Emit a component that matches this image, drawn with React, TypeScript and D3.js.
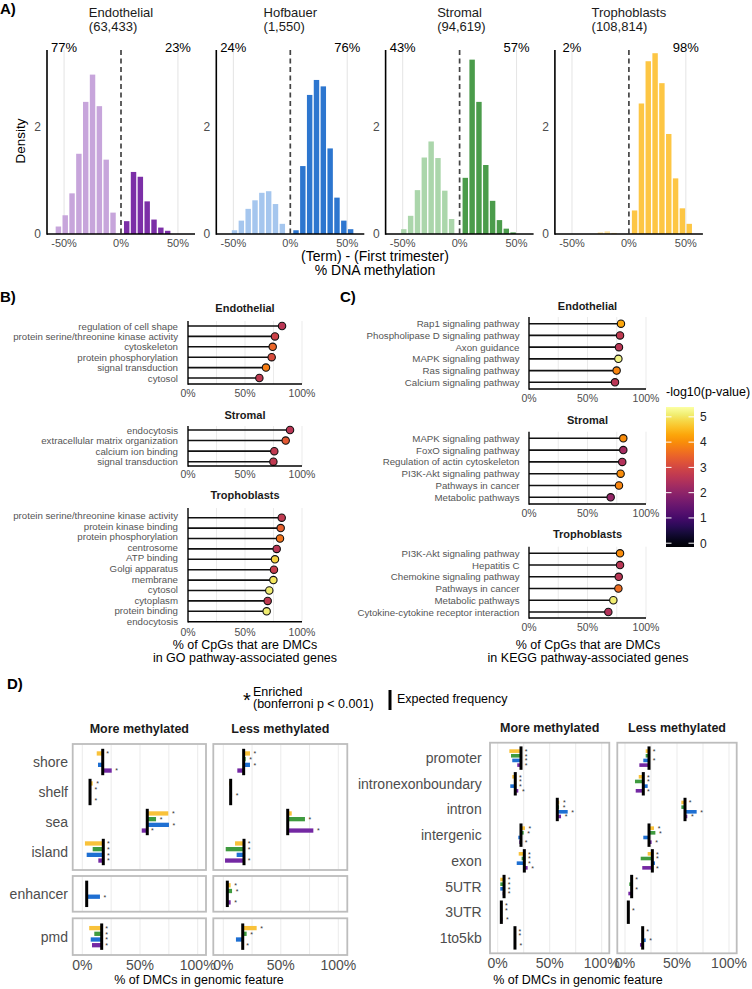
import React from "react";
import * as d3 from "d3";

const FONT = "'Liberation Sans', Arial, Helvetica, sans-serif";
const GREY = "#4d4d4d";

// ---------- A) density histograms ----------
const CELL_TYPES = ["Endothelial", "Hofbauer", "Stromal", "Trophoblasts"];
const CELL_COUNTS = ["(63,433)", "(1,550)", "(94,619)", "(108,814)"];
const PCT_LOWER = ["77%", "24%", "43%", "2%"];
const PCT_HIGHER = ["23%", "76%", "57%", "98%"];
const BIN_CENTERS = [-55, -49, -43, -37, -31, -25, -19, -13, -7, -1, 5, 11, 17, 23, 29, 35, 41, 47, 53];
const DENSITY_ENDO = [0.14, 0.35, 0.76, 1.5, 2.47, 2.98, 2.39, 1.39, 0.4, 0, 0.24, 1.16, 1.07, 0.61, 0.27, 0.12, 0.06, 0, 0];
const DENSITY_HOF = [0, 0.07, 0.25, 0.47, 0.63, 0.77, 0.8, 0.56, 0.19, 0, 0.07, 1.27, 2.6, 2.88, 2.76, 1.6, 0.68, 0.25, 0.09];
const DENSITY_STROM = [0, 0.09, 0.34, 0.82, 1.43, 1.73, 1.42, 0.81, 0.28, 0, 1.05, 3.26, 2.47, 1.29, 0.62, 0.26, 0.1, 0.03, 0];
const DENSITY_TROPH = [0, 0, 0, 0, 0, 0.03, 0.05, 0.02, 0, 0, 0.44, 2.44, 3.23, 3.38, 2.82, 1.87, 1.04, 0.48, 0.19];
const HIST_LIGHT = ["#c7a5db", "#a5c6ee", "#abd6ab", "#fde3a1"];
const HIST_DARK = ["#7c2fa7", "#2d76cf", "#4b9c4b", "#fdc644"];

// ---------- B) GO lollipops ----------
const GO_ENDO_TERMS = ["regulation of cell shape", "protein serine/threonine kinase activity", "cytoskeleton", "protein phosphorylation", "signal transduction", "cytosol"];
const GO_ENDO_PCT = [0.825, 0.763, 0.743, 0.734, 0.684, 0.626];
const GO_ENDO_LOGP = [2.6, 2.9, 3.5, 3.1, 3.8, 2.7];
const GO_STROM_TERMS = ["endocytosis", "extracellular matrix organization", "calcium ion binding", "signal transduction"];
const GO_STROM_PCT = [0.895, 0.857, 0.757, 0.749];
const GO_STROM_LOGP = [2.6, 3.3, 2.7, 2.7];
const GO_TROPH_TERMS = ["protein serine/threonine kinase activity", "protein kinase binding", "protein phosphorylation", "centrosome", "ATP binding", "Golgi apparatus", "membrane", "cytosol", "cytoplasm", "protein binding", "endocytosis"];
const GO_TROPH_PCT = [0.822, 0.813, 0.807, 0.778, 0.763, 0.754, 0.749, 0.713, 0.699, 0.69];
const GO_TROPH_LOGP = [2.7, 3.4, 3.7, 2.6, 4.8, 2.8, 5.0, 5.1, 2.7, 5.1];

// ---------- C) KEGG lollipops ----------
const KEGG_ENDO_TERMS = ["Rap1 signaling pathway", "Phospholipase D signaling pathway", "Axon guidance", "MAPK signaling pathway", "Ras signaling pathway", "Calcium signaling pathway"];
const KEGG_ENDO_PCT = [0.786, 0.778, 0.769, 0.764, 0.749, 0.735];
const KEGG_ENDO_LOGP = [4.3, 2.7, 2.6, 5.2, 3.9, 2.6];
const KEGG_STROM_TERMS = ["MAPK signaling pathway", "FoxO signaling pathway", "Regulation of actin cytoskeleton", "PI3K-Akt signaling pathway", "Pathways in cancer", "Metabolic pathways"];
const KEGG_STROM_PCT = [0.806, 0.806, 0.797, 0.783, 0.769, 0.698];
const KEGG_STROM_LOGP = [4.0, 2.3, 2.5, 4.0, 3.9, 2.1];
const KEGG_TROPH_TERMS = ["PI3K-Akt signaling pathway", "Hepatitis C", "Chemokine signaling pathway", "Pathways in cancer", "Metabolic pathways", "Cytokine-cytokine receptor interaction"];
const KEGG_TROPH_PCT = [0.778, 0.778, 0.767, 0.764, 0.721, 0.678];
const KEGG_TROPH_LOGP = [4.0, 2.6, 2.6, 3.6, 5.1, 2.5];
const LOGP_TICKS = [0, 1, 2, 3, 4, 5];

// ---------- D) genomic features ----------
const D_CELLS = ["T", "S", "H", "E"]; // Trophoblasts, Stromal, Hofbauer, Endothelial
const D_COLORS = ["#f9c23a", "#3f9b3f", "#1e6fd2", "#7428a3"];

const REGION_FEATURES = ["shore", "shelf", "sea", "island", "enhancer", "pmd"];
const REGION_EXPECTED_MORE = [17.7, 6.7, 56.3, 18.2, 3.8, 16.8];
const REGION_MORE_TROPH = [12.5, 9.0, 74.5, 2.3, 3.8, 6.0];
const REGION_MORE_STROM = [17.7, 7.5, 63.9, 9.0, 3.8, 10.4];
const REGION_MORE_HOF = [13.6, 6.7, 75.1, 3.8, 15.3, 7.3];
const REGION_MORE_ENDO = [25.5, 7.5, 51.5, 13.9, 3.8, 8.4];
const REGION_MORE_SIG = ["TE", "TSE", "TSHE", "TSHE", "H", "TSHE"];
const REGION_EXPECTED_LESS = [17.7, 6.4, 56.0, 18.0, 3.5, 16.9];
const REGION_LESS_TROPH = [23.2, 5.2, 59.5, 10.2, 6.4, 29.0];
const REGION_LESS_STROM = [19.5, 6.4, 71.0, 2.1, 7.6, 20.3];
const REGION_LESS_HOF = [23.2, 7.6, 56.0, 11.6, 3.5, 11.0];
const REGION_LESS_ENDO = [12.2, 6.4, 78.3, 1.5, 6.4, 16.9];
const REGION_LESS_SIG = ["TSH", "H", "SE", "TSE", "TSE", "TSE"];

const GENE_FEATURES = ["promoter", "intronexonboundary", "intron", "intergenic", "exon", "5UTR", "3UTR", "1to5kb"];
const GENE_EXPECTED_MORE = [22.4, 16.9, 57.3, 22.4, 25.6, 6.1, 3.5, 16.6];
const GENE_MORE_TROPH = [11.2, 14.0, 59.2, 26.2, 20.2, 2.5, 3.3, 16.6];
const GENE_MORE_STROM = [12.8, 16.5, 59.0, 25.0, 23.0, 2.5, 3.3, 16.6];
const GENE_MORE_HOF = [14.0, 12.1, 67.3, 19.8, 18.3, 2.5, 3.3, 16.6];
const GENE_MORE_ENDO = [18.8, 19.8, 60.9, 20.8, 28.8, 4.8, 4.5, 17.5];
const GENE_MORE_SIG = ["TSHE", "TSHE", "TSHE", "TSE", "TSHE", "TSHE", "TSE", "TSE"];
const GENE_EXPECTED_LESS = [23.1, 17.6, 57.7, 23.1, 26.3, 6.4, 3.2, 17.0];
const GENE_LESS_TROPH = [19.9, 13.2, 54.2, 27.9, 21.8, 6.0, 3.2, 17.0];
const GENE_LESS_STROM = [19.9, 9.6, 54.2, 29.2, 15.1, 4.1, 3.2, 16.5];
const GENE_LESS_HOF = [17.6, 21.8, 68.9, 17.6, 28.8, 6.4, 3.0, 19.9];
const GENE_LESS_ENDO = [13.8, 10.3, 59.9, 25.6, 16.6, 3.2, 3.2, 14.4];
const GENE_LESS_SIG = ["TH", "TSE", "THE", "TSE", "TSE", "TH", "S", "TH"];

const PCT_TICKS = [0, 50, 100];

const inferno = d3.scaleSequential(d3.interpolateInferno).domain([-0.15, 5.39]);

const measureCtx = typeof document !== "undefined" ? document.createElement("canvas").getContext("2d") : null;
function textWidth(s: string, font: string) {
  if (!measureCtx) return s.length * 7;
  measureCtx.font = font;
  return measureCtx.measureText(s).width;
}

function PanelA() {
  const series = [DENSITY_ENDO, DENSITY_HOF, DENSITY_STROM, DENSITY_TROPH];
  const y = d3.scaleLinear().domain([0, 3.44]).range([234, 50]);
  const step = BIN_CENTERS[1] - BIN_CENTERS[0];
  return (
    <g>
      <text x={0} y={14} fontSize={15} fontWeight="bold">A)</text>
      {CELL_TYPES.map((name, i) => {
        const left = 47 + i * 169.3;
        const x = d3.scaleLinear().domain([-65, 65]).range([left, left + 148]);
        const bw = x(step) - x(0);
        const tx = x(0) - textWidth(name, `13px ${FONT}`) / 2;
        return (
          <g key={name}>
            <text x={tx} y={17} fontSize={13} fill="#1a1a1a">{name}</text>
            <text x={tx} y={31} fontSize={13} fill="#1a1a1a">{CELL_COUNTS[i]}</text>
            {[-50, 50].map((v) => (
              <line key={v} x1={x(v)} x2={x(v)} y1={y(3.44)} y2={y(0)} stroke="#e6e6e6" strokeWidth={1.1} />
            ))}
            {BIN_CENTERS.map((c, j) =>
              series[i][j] > 0 ? (
                <rect key={c} x={x(c) - bw / 2 + 0.7} width={bw - 1.4} y={y(series[i][j])}
                  height={y(0) - y(series[i][j])} fill={c < 0 ? HIST_LIGHT[i] : HIST_DARK[i]} />
              ) : null
            )}
            <line x1={x(0)} x2={x(0)} y1={y(3.44)} y2={y(0)} stroke="#444" strokeWidth={1.7} strokeDasharray="5,3.5" />
            <line x1={left} x2={left} y1={y(3.44)} y2={y(0) + 0.8} stroke="#000" strokeWidth={1.6} />
            <line x1={left} x2={left + 148} y1={y(0)} y2={y(0)} stroke="#000" strokeWidth={1.6} />
            {[0, 2].map((v) => (
              <text key={v} x={left - 6} y={y(v) + 4.3} fontSize={12} fill={GREY} textAnchor="end">{v}</text>
            ))}
            {[-50, 0, 50].map((v) => (
              <text key={v} x={x(v)} y={247} fontSize={11} fill={GREY} textAnchor="middle">{v + "%"}</text>
            ))}
            <text x={x(-50)} y={52} fontSize={13} textAnchor="middle">{PCT_LOWER[i]}</text>
            <text x={x(50)} y={52} fontSize={13} textAnchor="middle">{PCT_HIGHER[i]}</text>
          </g>
        );
      })}
      <text transform="translate(25,141) rotate(-90)" fontSize={13.5} textAnchor="middle">Density</text>
      <text x={375} y={261} fontSize={14} textAnchor="middle">(Term) - (First trimester)</text>
      <text x={375} y={275} fontSize={14} textAnchor="middle">% DNA methylation</text>
    </g>
  );
}

type LolliProps = {
  title: string; labels: string[]; pct: number[]; logp: number[];
  x0: number; x1: number; top: number; bottom: number;
  rowFirst: number; rowLast: number; labelFirst?: number; labelLast?: number;
  labelX: number; titleY: number; tickY: number;
};

function Lollipop(p: LolliProps) {
  const x = d3.scaleLinear().domain([0, 1]).range([p.x0, p.x1]);
  const rows = d3.scalePoint<number>().domain(d3.range(p.pct.length)).range([p.rowFirst, p.rowLast]);
  const labRows = d3.scalePoint<number>().domain(d3.range(p.labels.length))
    .range([p.labelFirst ?? p.rowFirst, p.labelLast ?? p.rowLast]);
  return (
    <g>
      <text x={(p.x0 + p.x1) / 2} y={p.titleY} fontSize={11} fontWeight="bold" textAnchor="middle" fill="#1a1a1a">{p.title}</text>
      {[0.25, 0.5, 0.75, 1].map((v) => (
        <line key={v} x1={x(v)} x2={x(v)} y1={p.top} y2={p.bottom} stroke="#ebebeb" strokeWidth={1} />
      ))}
      {p.labels.map((l, i) => (
        <text key={i} x={p.labelX} y={(labRows(i) as number) + 3.5} fontSize={9.7} fill="#555" textAnchor="end">{l}</text>
      ))}
      {p.pct.map((v, i) => (
        <g key={i}>
          <line x1={p.x0} x2={x(v)} y1={rows(i)} y2={rows(i)} stroke="#111" strokeWidth={1.6} />
          <circle cx={x(v)} cy={rows(i)} r={3.7} fill={inferno(p.logp[i])} stroke="#111" strokeWidth={1.1} />
        </g>
      ))}
      <line x1={p.x0} x2={p.x0} y1={p.top} y2={p.bottom + 0.7} stroke="#000" strokeWidth={1.4} />
      <line x1={p.x0} x2={p.x1} y1={p.bottom} y2={p.bottom} stroke="#000" strokeWidth={1.4} />
      {[0, 0.5, 1].map((v) => (
        <text key={v} x={x(v)} y={p.tickY} fontSize={10.5} fill={GREY} textAnchor="middle">{d3.format(".0%")(v)}</text>
      ))}
    </g>
  );
}

function PanelB() {
  const common = { x0: 188, x1: 302, labelX: 178 };
  return (
    <g>
      <text x={0} y={302} fontSize={15} fontWeight="bold">B)</text>
      <Lollipop {...common} title="Endothelial" labels={GO_ENDO_TERMS} pct={GO_ENDO_PCT} logp={GO_ENDO_LOGP}
        top={321} bottom={384} rowFirst={326} rowLast={378} titleY={312} tickY={397} />
      <Lollipop {...common} title="Stromal" labels={GO_STROM_TERMS} pct={GO_STROM_PCT} logp={GO_STROM_LOGP}
        top={426} bottom={466} rowFirst={430} rowLast={461.7} titleY={419} tickY={478} />
      <Lollipop {...common} title="Trophoblasts" labels={GO_TROPH_TERMS} pct={GO_TROPH_PCT} logp={GO_TROPH_LOGP}
        top={508} bottom={621.7} rowFirst={517.7} rowLast={611.3} labelFirst={515.7} labelLast={621.3}
        titleY={499} tickY={635.5} />
      <text x={245} y={649} fontSize={12.5} textAnchor="middle">% of CpGs that are DMCs</text>
      <text x={245} y={662} fontSize={12.5} textAnchor="middle">in GO pathway-associated genes</text>
    </g>
  );
}

function PanelC() {
  const common = { x0: 529, x1: 646, labelX: 519.5 };
  const cy = d3.scaleLinear().domain([-0.15, 5.39]).range([547, 407]);
  return (
    <g>
      <text x={340} y={302} fontSize={15} fontWeight="bold">C)</text>
      <Lollipop {...common} title="Endothelial" labels={KEGG_ENDO_TERMS} pct={KEGG_ENDO_PCT} logp={KEGG_ENDO_LOGP}
        top={317} bottom={389} rowFirst={323.7} rowLast={382.3} titleY={310} tickY={402} />
      <Lollipop {...common} title="Stromal" labels={KEGG_STROM_TERMS} pct={KEGG_STROM_PCT} logp={KEGG_STROM_LOGP}
        top={431.7} bottom={504} rowFirst={438.3} rowLast={497.3} titleY={424} tickY={517} />
      <Lollipop {...common} title="Trophoblasts" labels={KEGG_TROPH_TERMS} pct={KEGG_TROPH_PCT} logp={KEGG_TROPH_LOGP}
        top={546.7} bottom={618} rowFirst={553.3} rowLast={612} titleY={538} tickY={631} />
      <text x={588} y={649} fontSize={12.5} textAnchor="middle">% of CpGs that are DMCs</text>
      <text x={588} y={662} fontSize={12.5} textAnchor="middle">in KEGG pathway-associated genes</text>
      <defs>
        <linearGradient id="cbar" x1="0" y1="1" x2="0" y2="0">
          {d3.range(21).map((i) => (
            <stop key={i} offset={i / 20} stopColor={d3.interpolateInferno(i / 20)} />
          ))}
        </linearGradient>
      </defs>
      <text x={666} y={396} fontSize={12.5}>-log10(p-value)</text>
      <rect x={666} y={cy(5.39)} width={28} height={cy(-0.15) - cy(5.39)} fill="url(#cbar)" />
      {LOGP_TICKS.map((v) => (
        <g key={v}>
          <line x1={666} x2={671.5} y1={cy(v)} y2={cy(v)} stroke="#fff" strokeWidth={1} />
          <line x1={688.5} x2={694} y1={cy(v)} y2={cy(v)} stroke="#fff" strokeWidth={1} />
          <text x={700} y={cy(v) + 4.3} fontSize={12} fill="#222">{v}</text>
        </g>
      ))}
    </g>
  );
}

type FacetProps = {
  features: string[]; idx: number[]; expected: number[]; obs: number[][]; sig: string[];
  x0: number; x1: number; zero: number; hundred: number; y0: number; y1: number;
  slot: number; barH: number; half: number; labelX?: number;
};

function DFacet(p: FacetProps) {
  const xs = d3.scaleLinear().domain([0, 100]).range([p.zero, p.hundred]);
  const ys = d3.scalePoint<number>().domain(p.idx).range([p.y0, p.y1]).padding(0.6);
  return (
    <g>
      <rect x={p.x0} y={p.y0} width={p.x1 - p.x0} height={p.y1 - p.y0} fill="#fff" />
      {[0, 25, 50, 75, 100].map((v) => (
        <line key={v} x1={xs(v)} x2={xs(v)} y1={p.y0} y2={p.y1} stroke="#ebebeb" strokeWidth={1} />
      ))}
      {p.idx.map((k) => {
        const cy = ys(k) as number;
        const ex = xs(p.expected[k]);
        return (
          <g key={k}>
            {p.labelX !== undefined && (
              <text x={p.labelX} y={cy + 5} fontSize={14} fill={GREY} textAnchor="end">{p.features[k]}</text>
            )}
            {D_CELLS.map((c, ci) => {
              const by = cy + (ci - 1.5) * p.slot;
              const ox = xs(p.obs[ci][k]);
              return (
                <g key={c}>
                  <rect x={Math.min(ox, ex)} width={Math.abs(ox - ex)} y={by - p.barH / 2} height={p.barH} fill={D_COLORS[ci]} />
                  {p.sig[k].includes(c) && (
                    <text x={Math.max(ox, ex) + 5} y={by + 2.8} fontSize={7} fill="#333" textAnchor="middle">*</text>
                  )}
                </g>
              );
            })}
            <line x1={ex} x2={ex} y1={cy - p.half} y2={cy + p.half} stroke="#000" strokeWidth={3} />
          </g>
        );
      })}
      <rect x={p.x0} y={p.y0} width={p.x1 - p.x0} height={p.y1 - p.y0} fill="none" stroke="#bdbdbd" strokeWidth={1.8} />
    </g>
  );
}

function PanelD() {
  const regionMore = [REGION_MORE_TROPH, REGION_MORE_STROM, REGION_MORE_HOF, REGION_MORE_ENDO];
  const regionLess = [REGION_LESS_TROPH, REGION_LESS_STROM, REGION_LESS_HOF, REGION_LESS_ENDO];
  const geneMore = [GENE_MORE_TROPH, GENE_MORE_STROM, GENE_MORE_HOF, GENE_MORE_ENDO];
  const geneLess = [GENE_LESS_TROPH, GENE_LESS_STROM, GENE_LESS_HOF, GENE_LESS_ENDO];

  const leftCols = [
    { x0: 72.7, x1: 206, zero: 82.3, hundred: 197.7, exp: REGION_EXPECTED_MORE, obs: regionMore, sig: REGION_MORE_SIG, title: "More methylated" },
    { x0: 213.3, x1: 347.3, zero: 223.3, hundred: 338.3, exp: REGION_EXPECTED_LESS, obs: regionLess, sig: REGION_LESS_SIG, title: "Less methylated" },
  ];
  const leftRows = [
    { idx: [0, 1, 2, 3], y0: 744, y1: 870 },
    { idx: [4], y0: 876, y1: 911.7 },
    { idx: [5], y0: 918.3, y1: 955 },
  ];
  const rightCols = [
    { x0: 490, x1: 609.3, zero: 497.7, hundred: 601.7, exp: GENE_EXPECTED_MORE, obs: geneMore, sig: GENE_MORE_SIG, title: "More methylated" },
    { x0: 617.3, x1: 736.7, zero: 625, hundred: 729, exp: GENE_EXPECTED_LESS, obs: geneLess, sig: GENE_LESS_SIG, title: "Less methylated" },
  ];

  return (
    <g>
      <text x={7} y={689} fontSize={15} fontWeight="bold">D)</text>
      <text x={243} y={707} fontSize={20}>*</text>
      <text x={253} y={696} fontSize={12.5}>Enriched</text>
      <text x={253} y={708} fontSize={12.5}>(bonferroni p &lt; 0.001)</text>
      <line x1={390} x2={390} y1={690} y2={710} stroke="#000" strokeWidth={3} />
      <text x={397} y={703} fontSize={12.5}>Expected frequency</text>

      {leftCols.map((c, ci) => (
        <g key={"l" + ci}>
          <text x={(c.x0 + c.x1) / 2} y={733} fontSize={12.5} fontWeight="bold" textAnchor="middle" fill="#1a1a1a">{c.title}</text>
          {leftRows.map((r, ri) => (
            <DFacet key={ri} features={REGION_FEATURES} idx={r.idx} expected={c.exp} obs={c.obs} sig={c.sig}
              x0={c.x0} x1={c.x1} zero={c.zero} hundred={c.hundred} y0={r.y0} y1={r.y1}
              slot={5.7} barH={4.3} half={13.2} labelX={ci === 0 ? 68 : undefined} />
          ))}
          {PCT_TICKS.map((v) => (
            <text key={v} x={c.zero + (c.hundred - c.zero) * v / 100} y={970} fontSize={14} fill={GREY} textAnchor="middle">{v + "%"}</text>
          ))}
        </g>
      ))}
      <text x={199} y={984} fontSize={12.5} textAnchor="middle">% of DMCs in genomic feature</text>

      {rightCols.map((c, ci) => (
        <g key={"r" + ci}>
          <text x={(c.x0 + c.x1) / 2} y={732} fontSize={12.5} fontWeight="bold" textAnchor="middle" fill="#1a1a1a">{c.title}</text>
          <DFacet features={GENE_FEATURES} idx={d3.range(GENE_FEATURES.length)} expected={c.exp} obs={c.obs} sig={c.sig}
            x0={c.x0} x1={c.x1} zero={c.zero} hundred={c.hundred} y0={742.7} y1={953.3}
            slot={4.67} barH={3.6} half={11.7} labelX={ci === 0 ? 481.7 : undefined} />
          {PCT_TICKS.map((v) => (
            <text key={v} x={c.zero + (c.hundred - c.zero) * v / 100} y={968} fontSize={14} fill={GREY} textAnchor="middle">{v + "%"}</text>
          ))}
        </g>
      ))}
      <text x={578} y={984} fontSize={12.5} textAnchor="middle">% of DMCs in genomic feature</text>
    </g>
  );
}

export default function App() {
  return (
    <svg width={752} height={989} style={{ position: "absolute", left: 0, top: 0 }} fontFamily={FONT}>
      <rect width={752} height={989} fill="#fff" />
      <PanelA />
      <PanelB />
      <PanelC />
      <PanelD />
    </svg>
  );
}
